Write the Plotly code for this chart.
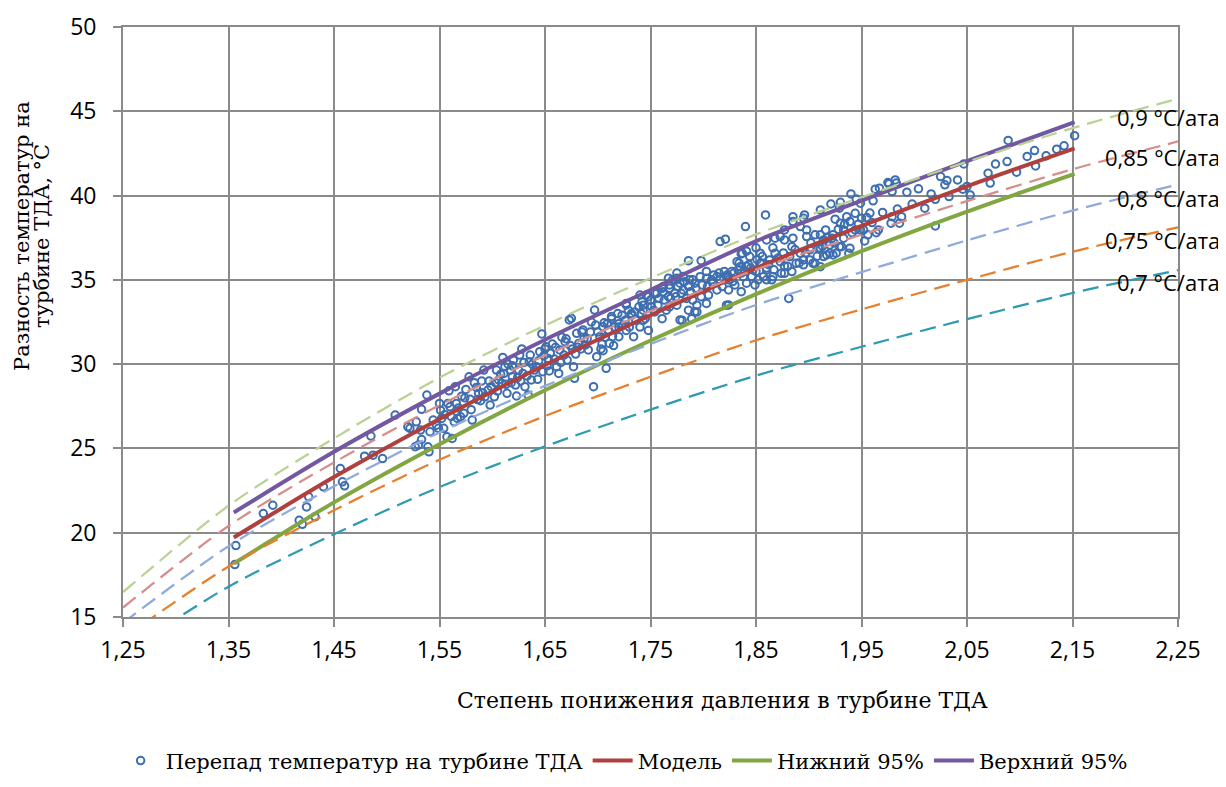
import plotly.graph_objects as go

# ---------------- data ----------------
x_ticks = [1.25, 1.35, 1.45, 1.55, 1.65, 1.75, 1.85, 1.95, 2.05, 2.15, 2.25]
x_tick_text = ["1,25", "1,35", "1,45", "1,55", "1,65", "1,75", "1,85", "1,95", "2,05", "2,15", "2,25"]
y_ticks = [15, 20, 25, 30, 35, 40, 45, 50]
y_tick_text = ["15", "20", "25", "30", "35", "40", "45", "50"]

# measured points: "Перепад температур на турбине ТДА"
pts_x = [
    1.356, 1.357, 1.383, 1.392, 1.417, 1.42, 1.424, 1.426, 1.432, 1.44, 1.456, 1.458, 1.46, 1.479, 1.485, 1.487,
    1.496, 1.508, 1.52, 1.522, 1.528, 1.527, 1.53, 1.532, 1.533, 1.533, 1.538, 1.539, 1.54, 1.541, 1.544, 1.547,
    1.549, 1.55, 1.551, 1.552, 1.554, 1.557, 1.558, 1.559, 1.56, 1.562, 1.564, 1.565, 1.566, 1.567, 1.57, 1.571,
    1.573, 1.578, 1.579, 1.581, 1.583, 1.585, 1.587, 1.589, 1.592, 1.593, 1.596, 1.598, 1.599, 1.602, 1.604, 1.606,
    1.609, 1.611, 1.612, 1.614, 1.617, 1.619, 1.62, 1.622, 1.623, 1.625, 1.626, 1.629, 1.631, 1.634, 1.635, 1.636,
    1.637, 1.64, 1.642, 1.645, 1.647, 1.648, 1.651, 1.653, 1.655, 1.657, 1.661, 1.663, 1.664, 1.668, 1.669, 1.671,
    1.673, 1.675, 1.677, 1.678, 1.68, 1.682, 1.684, 1.686, 1.688, 1.691, 1.696, 1.697, 1.698, 1.699, 1.702, 1.705,
    1.708, 1.71,
    1.605, 1.615, 1.628, 1.633, 1.644, 1.652, 1.659, 1.666, 1.674, 1.679, 1.687, 1.693, 1.703, 1.59, 1.575, 1.61,
    1.618, 1.627, 1.65,
    1.705, 1.711, 1.714, 1.72, 1.727, 1.734, 1.74, 1.748, 1.743, 1.706, 1.713, 1.72, 1.732, 1.707, 1.71, 1.713,
    1.716, 1.72, 1.723, 1.726, 1.729, 1.732, 1.735, 1.739, 1.742, 1.743, 1.746, 1.727, 1.727, 1.74, 1.743, 1.748,
    1.75,
    1.753, 1.754, 1.754, 1.756, 1.758, 1.761, 1.761, 1.762, 1.762, 1.765, 1.767, 1.767, 1.768, 1.768, 1.768, 1.771,
    1.773, 1.775, 1.775, 1.775, 1.776, 1.778, 1.778, 1.78, 1.781, 1.781, 1.782, 1.786, 1.786, 1.786, 1.787, 1.789,
    1.79, 1.79, 1.792, 1.792, 1.794, 1.794, 1.797, 1.798, 1.798,
    1.803, 1.803, 1.803, 1.805, 1.808, 1.81, 1.813, 1.813, 1.815, 1.816, 1.816, 1.821, 1.82, 1.822, 1.822, 1.824,
    1.824, 1.824, 1.827, 1.829, 1.83, 1.832, 1.834, 1.835, 1.836, 1.836, 1.836, 1.837, 1.838, 1.84, 1.841, 1.841,
    1.841, 1.843, 1.844, 1.846, 1.847, 1.849, 1.85, 1.85,
    1.852, 1.854, 1.854, 1.855, 1.857, 1.859, 1.86, 1.86, 1.86, 1.86, 1.863, 1.865, 1.866, 1.866, 1.868, 1.868,
    1.873, 1.873, 1.874, 1.877, 1.877, 1.877, 1.877, 1.881, 1.882, 1.884, 1.884, 1.885, 1.885, 1.885, 1.888, 1.892,
    1.892, 1.895, 1.895, 1.895, 1.896, 1.898, 1.898,
    1.901, 1.901, 1.904, 1.906, 1.906, 1.909, 1.911, 1.911, 1.911, 1.911, 1.914, 1.914, 1.916, 1.917, 1.92, 1.92,
    1.921, 1.922, 1.923, 1.923, 1.925, 1.926, 1.929, 1.929, 1.93, 1.93, 1.931, 1.933, 1.933, 1.936, 1.938, 1.939,
    1.939, 1.94, 1.944, 1.944, 1.945, 1.949, 1.949,
    1.95, 1.952, 1.953, 1.956, 1.958, 1.961, 1.963, 1.964, 1.966, 1.967, 1.975, 1.976, 1.978, 1.979, 1.979, 1.982,
    1.983, 1.986, 1.988, 1.998,
    2.01, 2.016, 2.02, 2.02, 2.025, 2.029, 2.031, 2.033, 2.041, 2.046, 2.047, 2.05, 2.053, 2.07, 2.072, 2.077,
    2.088, 2.089, 2.097, 2.107, 2.114, 2.115, 2.125, 2.135, 2.142, 2.152,
    1.555, 1.561, 1.568, 1.574, 1.58, 1.586, 1.591, 1.597, 1.603, 1.608, 1.613, 1.619, 1.624, 1.63, 1.638, 1.643,
    1.649, 1.654, 1.66, 1.665, 1.67, 1.676, 1.681, 1.685, 1.69, 1.694, 1.7, 1.704, 1.709, 1.715, 1.719, 1.724,
    1.73, 1.736, 1.741, 1.745, 1.751, 1.757, 1.763, 1.769, 1.774, 1.779, 1.784, 1.788, 1.793, 1.799, 1.804, 1.809,
    1.818, 1.823, 1.828, 1.833, 1.839, 1.845, 1.851, 1.856, 1.862, 1.867, 1.871, 1.876, 1.88, 1.887, 1.891, 1.897,
    1.902, 1.908, 1.913, 1.918, 1.924, 1.928, 1.934, 1.941, 1.947, 1.955, 1.96, 1.97, 1.984, 1.993, 2.004,
]
pts_y = [
    18.11, 19.24, 21.14, 21.63, 20.74, 20.5, 21.53, 22.13, 20.94, 22.72, 23.81, 23.02, 22.78, 24.54, 25.73, 24.6,
    24.4, 26.98, 26.28, 26.19, 26.58, 25.1, 25.2, 26.09, 27.32, 25.53, 28.17, 25.1, 24.8, 25.99, 26.68, 26.38,
    26.19, 27.67, 27.27, 26.78, 26.19, 25.69, 27.67, 28.42, 27.47, 25.59, 26.58, 28.66, 27.67, 26.78, 26.88, 28.1,
    27.08, 29.25, 27.91, 26.68, 28.9, 28.62, 28.27, 27.83, 29.65, 28.06, 28.46, 27.57, 28.66, 28.06, 29.65, 29.06,
    28.86, 29.45, 29.85, 28.27, 29.65, 29.25, 30.24, 28.76, 28.11, 29.65, 30.54, 29.45, 28.66, 28.17, 30.14, 30.54,
    29.06, 29.65, 29.85, 30.74, 31.79, 29.55, 31.03, 30.34, 30.64, 31.19, 29.85, 29.45, 30.84, 30.54, 31.33, 30.24,
    32.62, 32.72, 29.85, 29.16, 31.83, 31.23, 30.9, 32.03, 31.13, 30.84, 28.66, 33.21, 32.32, 30.44, 31.63, 32.22,
    29.75, 32.03,
    28.4, 30.0, 30.9, 29.3, 30.2, 29.9, 30.3, 31.6, 31.1, 30.6, 31.5, 31.9, 30.9, 29.0, 28.5, 30.4,
    28.9, 29.0, 30.9,
    30.8, 31.23, 31.63, 31.63, 32.0, 31.63, 32.2, 32.0, 32.6, 32.45, 32.82, 32.2, 33.0, 31.6, 32.0, 32.7,
    32.2, 32.4, 32.9, 32.6, 33.2, 32.9, 33.1, 33.4, 33.7, 33.2, 34.1, 33.51, 33.6, 34.1, 33.5, 34.0,
    33.8,
    33.2, 34.2, 33.1, 34.2, 33.9, 32.7, 34.5, 34.3, 34.6, 33.2, 34.0, 35.1, 34.5, 34.7, 33.4, 35.0,
    34.2, 33.5, 35.1, 35.4, 34.6, 34.8, 32.62, 32.6, 34.4, 35.2, 34.89, 33.2, 34.6, 36.14, 35.0, 32.7,
    33.8, 35.0, 33.11, 34.8, 33.5, 33.1, 35.19, 34.0, 36.14,
    33.6, 35.09, 35.5, 34.1, 35.0, 35.29, 34.4, 35.2, 35.4, 35.0, 37.27, 37.41, 35.5, 35.19, 33.5, 34.4,
    33.51, 35.0, 35.49, 35.4, 34.7, 36.08, 36.0, 35.78, 35.4, 34.3, 36.54, 36.58, 35.19, 38.16, 34.8, 35.8,
    36.7, 35.89, 36.38, 35.2, 35.59, 34.7, 35.5, 36.9,
    35.0, 35.98, 36.58, 36.0, 35.19, 38.85, 35.59, 35.7, 35.0, 37.37, 36.18, 35.0, 35.19, 36.9, 36.58, 37.47,
    36.08, 37.57, 35.39, 35.39, 35.82, 37.37, 37.96, 33.9, 36.38, 35.49, 36.97, 37.47, 38.46, 38.75, 35.98, 36.58,
    38.16, 35.89, 36.18, 38.66, 38.85, 37.57, 37.96,
    36.18, 36.78, 35.98, 35.98, 37.67, 36.88, 35.78, 36.88, 37.67, 39.15, 36.38, 37.37, 37.96, 36.48, 36.58, 37.07,
    39.5, 37.47, 36.48, 37.67, 38.6, 36.58, 36.97, 39.25, 38.36, 39.6, 36.97, 37.47, 37.96, 38.75, 36.58, 36.88,
    38.46, 40.1, 37.96, 38.95, 39.8, 37.96, 39.55,
    38.66, 37.96, 37.31, 37.67, 38.96, 39.69, 40.38, 37.8, 37.96, 40.44, 40.77, 40.7, 38.36, 38.75, 40.24, 40.93,
    40.74, 38.36, 38.75, 39.5,
    39.25, 40.1, 39.78, 38.2, 41.13, 40.64, 40.89, 39.94, 40.93, 40.38, 41.88, 40.54, 40.04, 41.33, 40.74, 41.87,
    42.02, 43.27, 41.39, 42.32, 42.67, 41.76, 42.36, 42.75, 42.95, 43.55,
    27.0, 26.9, 27.4, 28.0, 27.3, 27.9, 28.3, 29.0, 28.9, 29.4, 28.8, 29.9, 29.2, 30.1, 30.0, 29.1,
    30.5, 29.6, 31.0, 30.1, 31.5, 30.9, 31.0, 31.9, 31.5, 32.5, 31.9, 31.2, 32.4, 31.1, 33.0, 32.3,
    32.2, 32.6, 33.0, 32.7, 33.4, 33.5, 33.8, 33.9, 34.0, 34.2, 33.9, 34.3, 34.5, 34.7, 34.6, 34.8,
    34.6, 35.3, 34.9, 35.6, 35.5, 35.7, 36.2, 36.4, 35.9, 35.6, 36.3, 36.6, 35.8, 36.8, 36.0, 36.6,
    37.2, 36.4, 37.0, 37.5, 37.2, 38.0, 38.3, 37.8, 38.3, 38.7, 38.4, 39.0, 39.2, 40.2, 40.4,
]

# regression model and 95% bounds
model_x = [1.355, 1.45, 1.55, 1.65, 1.75, 1.85, 1.95, 2.05, 2.152]
model_y = [19.72, 23.3, 26.75, 29.95, 32.9, 35.7, 38.2, 40.55, 42.8]
lower_y = [18.17, 21.8, 25.25, 28.45, 31.4, 34.15, 36.7, 39.05, 41.29]
upper_y = [21.2, 24.8, 28.25, 31.45, 34.4, 37.3, 39.7, 42.05, 44.36]

# reference curves (°C/ата)
ref_x = [1.25, 1.35, 1.45, 1.55, 1.65, 1.75, 1.85, 1.95, 2.05, 2.15, 2.25]
ref_090 = [16.48, 21.6, 25.6, 29.2, 32.3, 35.1, 37.7, 39.9, 42.0, 44.0, 45.75]
ref_085 = [15.56, 20.4, 24.17, 27.57, 30.51, 33.15, 35.61, 37.68, 39.67, 41.56, 43.21]
ref_080 = [14.65, 19.2, 22.75, 25.95, 28.71, 31.2, 33.51, 35.46, 37.34, 39.11, 40.66]
ref_075 = [13.73, 18.0, 21.33, 24.33, 26.92, 29.25, 31.42, 33.25, 35.0, 36.67, 38.12]
ref_070 = [12.82, 16.8, 19.91, 22.71, 25.12, 27.3, 29.32, 31.03, 32.67, 34.22, 35.58]
ref_labels = ["0,9 °C/ата", "0,85 °C/ата", "0,8 °C/ата", "0,75 °C/ата", "0,7 °C/ата"]
ref_label_y = [44.67, 42.3, 39.86, 37.37, 34.87]

# ---------------- styles ----------------
SERIF = "DejaVu Serif, Liberation Serif, serif"
SANS = "Open Sans, Noto Sans, sans-serif"
GRID = "#8a8a8a"
ref_series = [
    (ref_090, "#b9d293"),
    (ref_085, "#d68d8b"),
    (ref_080, "#8faadc"),
    (ref_075, "#e7802e"),
    (ref_070, "#2e9bb1"),
]

fig = go.Figure()

fig.add_trace(go.Scatter(
    x=pts_x, y=pts_y, mode="markers",
    name="Перепад температур на турбине ТДА",
    marker=dict(symbol="circle-open", size=7.5, color="#3d6eb0", line=dict(width=2)),
))
fig.add_trace(go.Scatter(
    x=model_x, y=model_y, mode="lines", name="Модель",
    line=dict(color="#b0403d", width=4, shape="spline", smoothing=0.8),
))
fig.add_trace(go.Scatter(
    x=model_x, y=lower_y, mode="lines", name="Нижний 95%",
    line=dict(color="#82a642", width=4, shape="spline", smoothing=0.8),
))
fig.add_trace(go.Scatter(
    x=model_x, y=upper_y, mode="lines", name="Верхний 95%",
    line=dict(color="#7258a0", width=4, shape="spline", smoothing=0.8),
))
for ys, col in ref_series:
    fig.add_trace(go.Scatter(
        x=ref_x, y=ys, mode="lines", showlegend=False, hoverinfo="skip",
        line=dict(color=col, width=2.25, dash="16px,8px", shape="spline", smoothing=0.8),
    ))

annotations = []
for txt, yv in zip(ref_labels, ref_label_y):
    annotations.append(dict(
        text=txt, xref="paper", x=1.0417, xanchor="right",
        yref="y", y=yv, yanchor="middle", showarrow=False,
        font=dict(family=SANS, size=22, color="#000000"),
    ))
# y-axis title, two rotated lines
annotations.append(dict(
    text="Разность температур на", textangle=-90,
    xref="paper", x=-0.0957, xanchor="center", yref="paper", y=0.646, yanchor="middle",
    showarrow=False, font=dict(family=SERIF, size=21, color="#000000"),
))
annotations.append(dict(
    text="турбине ТДА, °С", textangle=-90,
    xref="paper", x=-0.0767, xanchor="center", yref="paper", y=0.646, yanchor="middle",
    showarrow=False, font=dict(family=SERIF, size=21, color="#000000"),
))
annotations.append(dict(
    text="Степень понижения давления в турбине ТДА",
    xref="paper", x=0.5687, xanchor="center", yref="paper", y=-0.1413, yanchor="middle",
    showarrow=False, font=dict(family=SERIF, size=22, color="#000000"),
))

fig.update_layout(
    width=1218, height=771,
    margin=dict(l=115, r=48, t=19, b=162, autoexpand=False),
    paper_bgcolor="white", plot_bgcolor="white",
    showlegend=True,
    legend=dict(
        orientation="h", x=0.475, xanchor="center", y=-0.244, yanchor="middle",
        font=dict(family=SERIF, size=21, color="#000000"),
        bgcolor="rgba(0,0,0,0)", itemwidth=40, tracegroupgap=0,
    ),
    annotations=annotations,
)
fig.update_xaxes(
    range=[1.25, 2.25], tickmode="array", tickvals=x_ticks, ticktext=x_tick_text,
    showgrid=True, gridcolor=GRID, gridwidth=1.75, automargin=False,
    showline=True, linecolor=GRID, linewidth=1.75, mirror=True,
    ticks="outside", ticklen=8, tickwidth=1.75, tickcolor=GRID,
    tickfont=dict(family=SANS, size=23, color="#000000"),
    ticklabelstandoff=4, zeroline=False,
)
fig.update_yaxes(
    range=[15, 50], tickmode="array", tickvals=y_ticks, ticktext=y_tick_text,
    showgrid=True, gridcolor=GRID, gridwidth=1.75, automargin=False,
    showline=True, linecolor=GRID, linewidth=1.75, mirror=True,
    ticks="outside", ticklen=8, tickwidth=1.75, tickcolor=GRID,
    tickfont=dict(family=SANS, size=23, color="#000000"),
    ticklabelstandoff=12, zeroline=False,
)

fig.write_html("out.html")
